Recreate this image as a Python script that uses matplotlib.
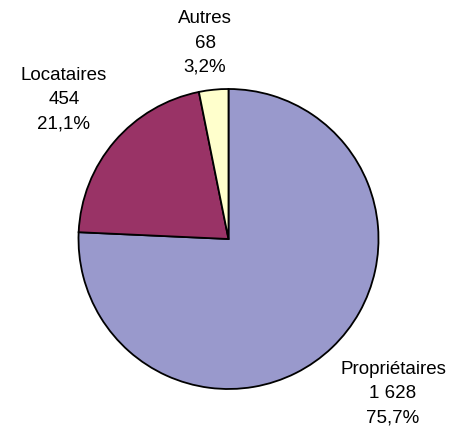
import matplotlib
matplotlib.use('Agg')
import matplotlib.pyplot as plt

# statut d'occupation des ménages
categories = ['Propriétaires', 'Locataires', 'Autres']
values = [1628, 454, 68]
colors = ['#9999CC', '#993366', '#FFFFCC']

W, H = 451, 430
fig = plt.figure(figsize=(W / 100, H / 100), dpi=100)
plt.rcParams['font.family'] = ['Liberation Sans', 'DejaVu Sans']

# pie centred at (228.5, 239) px, radius 150 px
cx, cy, r = 228.5, 239, 150
pad = 1.02
ax = fig.add_axes([(cx - r * pad) / W, (H - cy - r * pad) / H, 2 * pad * r / W, 2 * pad * r / H])
ax.pie(values, colors=colors, startangle=90, counterclock=False,
       radius=1, wedgeprops=dict(edgecolor='black', linewidth=1.3))
ax.set_xlim(-pad, pad)
ax.set_ylim(-pad, pad)
ax.set_aspect('auto')

total = sum(values)

def fmt_int(v):
    return '{:,}'.format(v).replace(',', ' ')

# label block centres in pixels
label_pos = [(393, 394), (64, 100), (205, 43)]
for name, v, (px, py) in zip(categories, values, label_pos):
    pct = ('%.1f%%' % (100.0 * v / total)).replace('.', ',')
    fig.text(px / W, 1 - py / H, name + '\n' + fmt_int(v) + '\n' + pct,
             ha='center', va='center', fontsize=13.5, linespacing=1.55,
             color='black')

fig.savefig('out.png', dpi=100)
